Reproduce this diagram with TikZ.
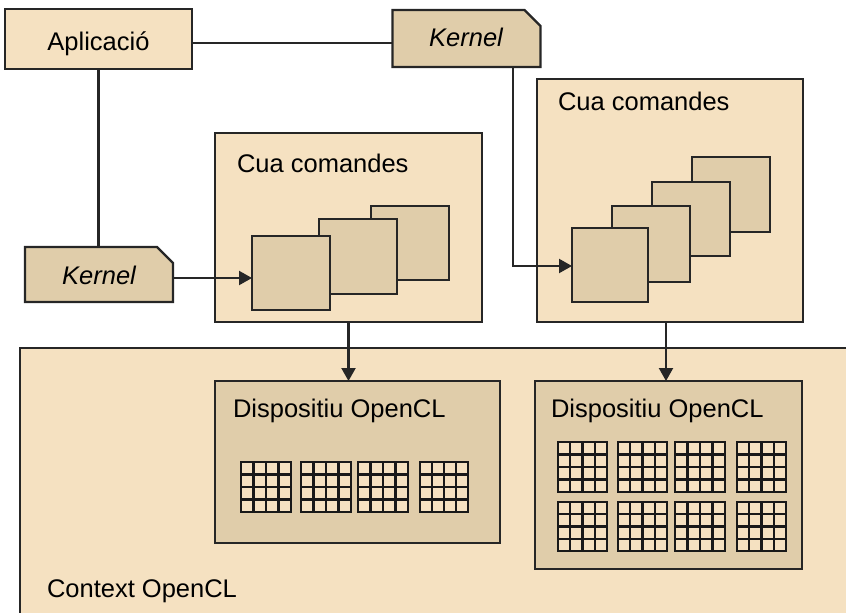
\documentclass[tikz,border=0pt]{standalone}
\usepackage{fontspec}
\setmainfont{Liberation Sans}
\usetikzlibrary{arrows.meta}
\definecolor{lightfill}{RGB}{245,225,193}
\definecolor{darkfill}{RGB}{224,205,170}
\definecolor{edgecol}{RGB}{38,38,38}
\begin{document}
\begin{tikzpicture}[x=1pt,y=-1pt,line width=2.3pt,
  txt/.style={font=\fontsize{25.5}{30}\selectfont,text=black},
  boxl/.style={draw=edgecol,fill=lightfill,inner sep=0pt,outer sep=0pt,txt},
  boxd/.style={draw=edgecol,fill=darkfill,inner sep=0pt,outer sep=0pt,txt},
  ghost/.style={inner sep=0pt,outer sep=0pt,txt},
  lbl/.style={inner sep=0pt,outer sep=0pt,anchor=base west,txt},
  ctext/.style={inner sep=0pt,outer sep=0pt,anchor=base,txt},
  conn/.style={draw=edgecol,line width=2.2pt},
  arr/.style={conn,-{Triangle[length=13pt,width=14pt]}},
  gridline/.style={draw=black!90,line width=2.1pt}]
\useasboundingbox (0,0) rectangle (846,613);
\clip (0,0) rectangle (846,613);

% Context box
\node[boxl,minimum width=860pt,minimum height=300pt] (ctx) at (450,498) {};
\node[lbl] (ctxl) at (47,597) {Context OpenCL};

% Command queues
\node[boxl,minimum width=267pt,minimum height=189pt] (cq1) at (348.5,227.5) {};
\node[lbl] (cq1l) at (237,172) {Cua comandes};
\node[boxl,minimum width=266pt,minimum height=243pt] (cq2) at (670,200.5) {};
\node[lbl] (cq2l) at (558,110) {Cua comandes};

% Queue squares (left)
\node[boxd,minimum width=78pt,minimum height=74pt] (s1c) at (410,243) {};
\node[boxd,minimum width=78pt,minimum height=75pt] (s1b) at (358,256.5) {};
\node[boxd,minimum width=78pt,minimum height=74pt] (s1a) at (291,273) {};
% Queue squares (right)
\node[boxd,minimum width=78pt,minimum height=75pt] (s2d) at (731,194.5) {};
\node[boxd,minimum width=78pt,minimum height=74pt] (s2c) at (691,219) {};
\node[boxd,minimum width=78pt,minimum height=76pt] (s2b) at (651,244) {};
\node[boxd,minimum width=76pt,minimum height=74pt] (s2a) at (610,265) {};

% Devices
\node[boxd,minimum width=285pt,minimum height=162pt] (dev1) at (357.5,462) {};
\node[lbl] (dev1l) at (233,417) {Dispositiu OpenCL};
\node[boxd,minimum width=267pt,minimum height=188pt] (dev2) at (668.5,475) {};
\node[lbl] (dev2l) at (551,417) {Dispositiu OpenCL};

% Compute unit grids
\foreach \gx/\gy/\gw/\gh in {241/462/50/50, 301/462/50/50, 358/462/50/50, 420/462/48/50,
  558/442/49/50, 618/442/49/50, 675/442/50/50, 737/442/49/50,
  558/502/49/49, 618/502/49/49, 675/502/50/49, 737/502/49/49} {
  \fill[lightfill] (\gx,\gy) rectangle ++(\gw,\gh);
  \foreach \i in {1,2,3} {
    \draw[gridline] ({\gx+\i*\gw/4},\gy) -- ++(0,\gh);
    \draw[gridline] (\gx,{\gy+\i*\gh/4}) -- ++(\gw,0);
  }
  \draw[gridline] (\gx,\gy) rectangle ++(\gw,\gh);
}

% Application
\node[boxl,minimum width=187pt,minimum height=60pt] (app) at (98.5,39) {};
\node[ctext] (appl) at (98.5,50) {Aplicació};

% Kernels (cut-corner shapes)
\node[ghost,minimum width=148pt,minimum height=57pt] (kt) at (466.5,38.5) {};
\filldraw[draw=edgecol,fill=darkfill] (kt.south west) -- (kt.north west) -- ([xshift=-16pt]kt.north east)
  -- ([yshift=-16pt]kt.north east) -- (kt.south east) -- cycle;
\node[ctext] (ktl) at (466,46) {\itshape Kernel};
\node[ghost,minimum width=148pt,minimum height=55pt] (kl) at (99,274.5) {};
\filldraw[draw=edgecol,fill=darkfill] (kl.south west) -- (kl.north west) -- ([xshift=-16pt]kl.north east)
  -- ([yshift=-16pt]kl.north east) -- (kl.south east) -- cycle;
\node[ctext] (kll) at (99,284) {\itshape Kernel};

% Connectors
\coordinate (c1) at (0,43);
\draw[conn] (app.east |- c1) -- (kt.west |- c1);
\draw[conn] (app.south) -- (app.south |- kl.north);
\coordinate (c2) at (0,278);
\draw[arr] (kl.east |- c2) -- (s1a.west |- c2);
\coordinate (bend) at (513,266);
\draw[arr] (bend |- kt.south) -- (bend) -- (bend -| s2a.west);
\draw[arr] (cq1.south) -- (cq1.south |- dev1.north);
\coordinate (c3) at (666,0);
\draw[arr] (c3 |- cq2.south) -- (c3 |- dev2.north);
\end{tikzpicture}
\end{document}
